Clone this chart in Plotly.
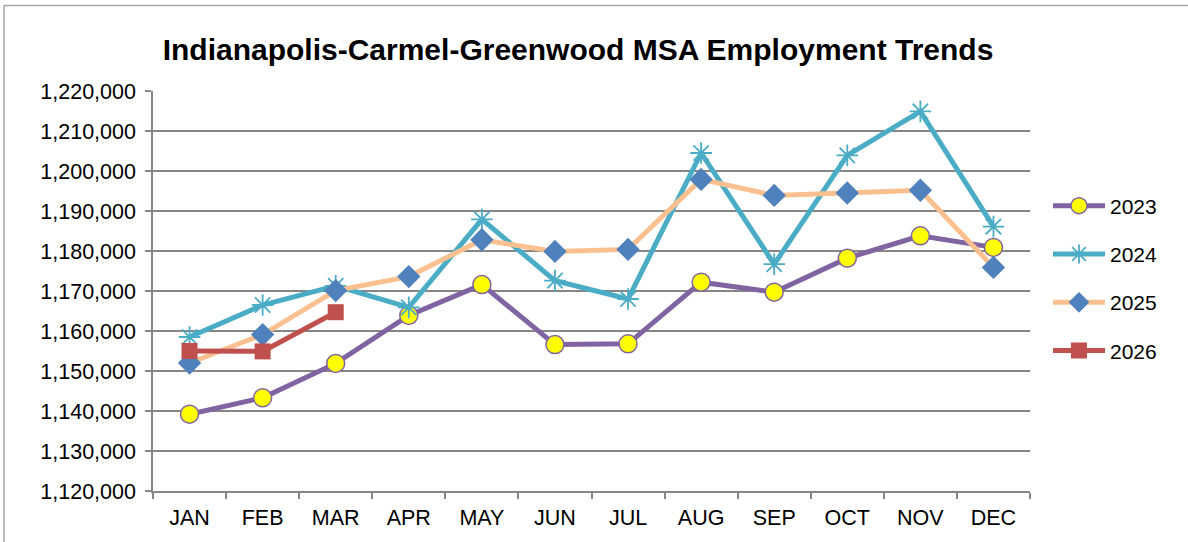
import plotly.graph_objects as go

months = ["JAN", "FEB", "MAR", "APR", "MAY", "JUN", "JUL", "AUG", "SEP", "OCT", "NOV", "DEC"]
y2023 = [1139200, 1143300, 1151900, 1163900, 1171600, 1156600, 1156800, 1172200, 1169700, 1178200, 1183800, 1180900]
y2024 = [1158500, 1166500, 1171300, 1165900, 1187900, 1172600, 1168000, 1204500, 1176700, 1203900, 1214900, 1186100]
y2025 = [1152000, 1159100, 1170100, 1173600, 1182800, 1179900, 1180400, 1197900, 1193900, 1194500, 1195200, 1175900]
y2026 = [1155000, 1154900, 1164700]
y_ticks = list(range(1120000, 1220001, 10000))

W, H = 1188, 542
L, R, T, B = 153, 1030, 91, 493

fig = go.Figure()
fig.add_trace(go.Scatter(x=months, y=y2023, name="2023", mode="lines+markers",
                         line=dict(color="#8064A2", width=5),
                         marker=dict(symbol="circle", size=18, color="#FFFF00",
                                     line=dict(color="#8064A2", width=1.5)),
                         legendgroup="a"))
fig.add_trace(go.Scatter(x=months, y=y2024, name="2024", mode="lines+markers",
                         line=dict(color="#4BACC6", width=5),
                         marker=dict(symbol="asterisk-open", size=18, color="#4BACC6",
                                     line=dict(color="#4BACC6", width=1.8)),
                         legendgroup="b"))
fig.add_trace(go.Scatter(x=months, y=y2025, name="2025", mode="lines+markers",
                         line=dict(color="#FAC090", width=5),
                         marker=dict(symbol="diamond", size=18, color="#4F81BD",
                                     line=dict(color="#4F81BD", width=0)),
                         legendgroup="c"))
fig.add_trace(go.Scatter(x=months[:3], y=y2026, name="2026", mode="lines+markers",
                         line=dict(color="#C0504D", width=5),
                         marker=dict(symbol="square", size=16, color="#C0504D",
                                     line=dict(color="#C0504D", width=0)),
                         legendgroup="d"))

grid = "#868686"
fig.update_xaxes(type="category", categoryorder="array", categoryarray=months,
                 range=[-0.5, 11.5], showgrid=False, showline=True, linecolor=grid, linewidth=1.5,
                 ticks="outside", tickson="boundaries", ticklen=6, tickcolor=grid, tickwidth=1.5,
                 ticklabelstandoff=6,
                 tickfont=dict(family="Liberation Sans, Arial", size=21.5, color="#000000"),
                 zeroline=False, fixedrange=True)
fig.update_yaxes(range=[1120000, 1220000], tickvals=y_ticks, tickformat=",",
                 showgrid=True, gridcolor=grid, gridwidth=1.5,
                 showline=True, linecolor=grid, linewidth=1.5,
                 ticks="outside", ticklen=6, tickcolor=grid, tickwidth=1.5,
                 ticklabelstandoff=5,
                 tickfont=dict(family="Liberation Sans, Arial", size=21.5, color="#000000"),
                 zeroline=False, fixedrange=True)

pw, ph = R - L, B - T
def px(x):
    return (x - L) / pw
def py(y):
    return (B - y) / ph

fig.add_shape(type="line", xref="paper", yref="paper", x0=px(4), x1=px(1200), y0=py(5), y1=py(5),
              line=dict(color="#A6A6A6", width=1.5))
fig.add_shape(type="line", xref="paper", yref="paper", x0=px(4), x1=px(4), y0=py(5), y1=py(560),
              line=dict(color="#A6A6A6", width=1.5))

fig.update_layout(
    width=W, height=H,
    margin=dict(l=L, r=W - R, t=T, b=H - B, pad=0),
    paper_bgcolor="#FFFFFF", plot_bgcolor="#FFFFFF",
    title=dict(text="<b>Indianapolis-Carmel-Greenwood MSA Employment Trends</b>",
               font=dict(family="Liberation Sans, Arial", size=30, color="#000000"),
               x=(578 - L) / pw, xref="paper", xanchor="center",
               y=1 - 49 / H, yref="container", yanchor="middle"),
    legend=dict(x=px(1048), y=py(186), xanchor="left", yanchor="top",
                font=dict(family="Liberation Sans, Arial", size=21, color="#000000"),
                tracegroupgap=18, itemwidth=52, bgcolor="rgba(0,0,0,0)"),
    showlegend=True,
)

fig.write_html("out.html", config={"displayModeBar": False},
               post_script="document.body.style.margin='0px';document.body.style.padding='0px';")
